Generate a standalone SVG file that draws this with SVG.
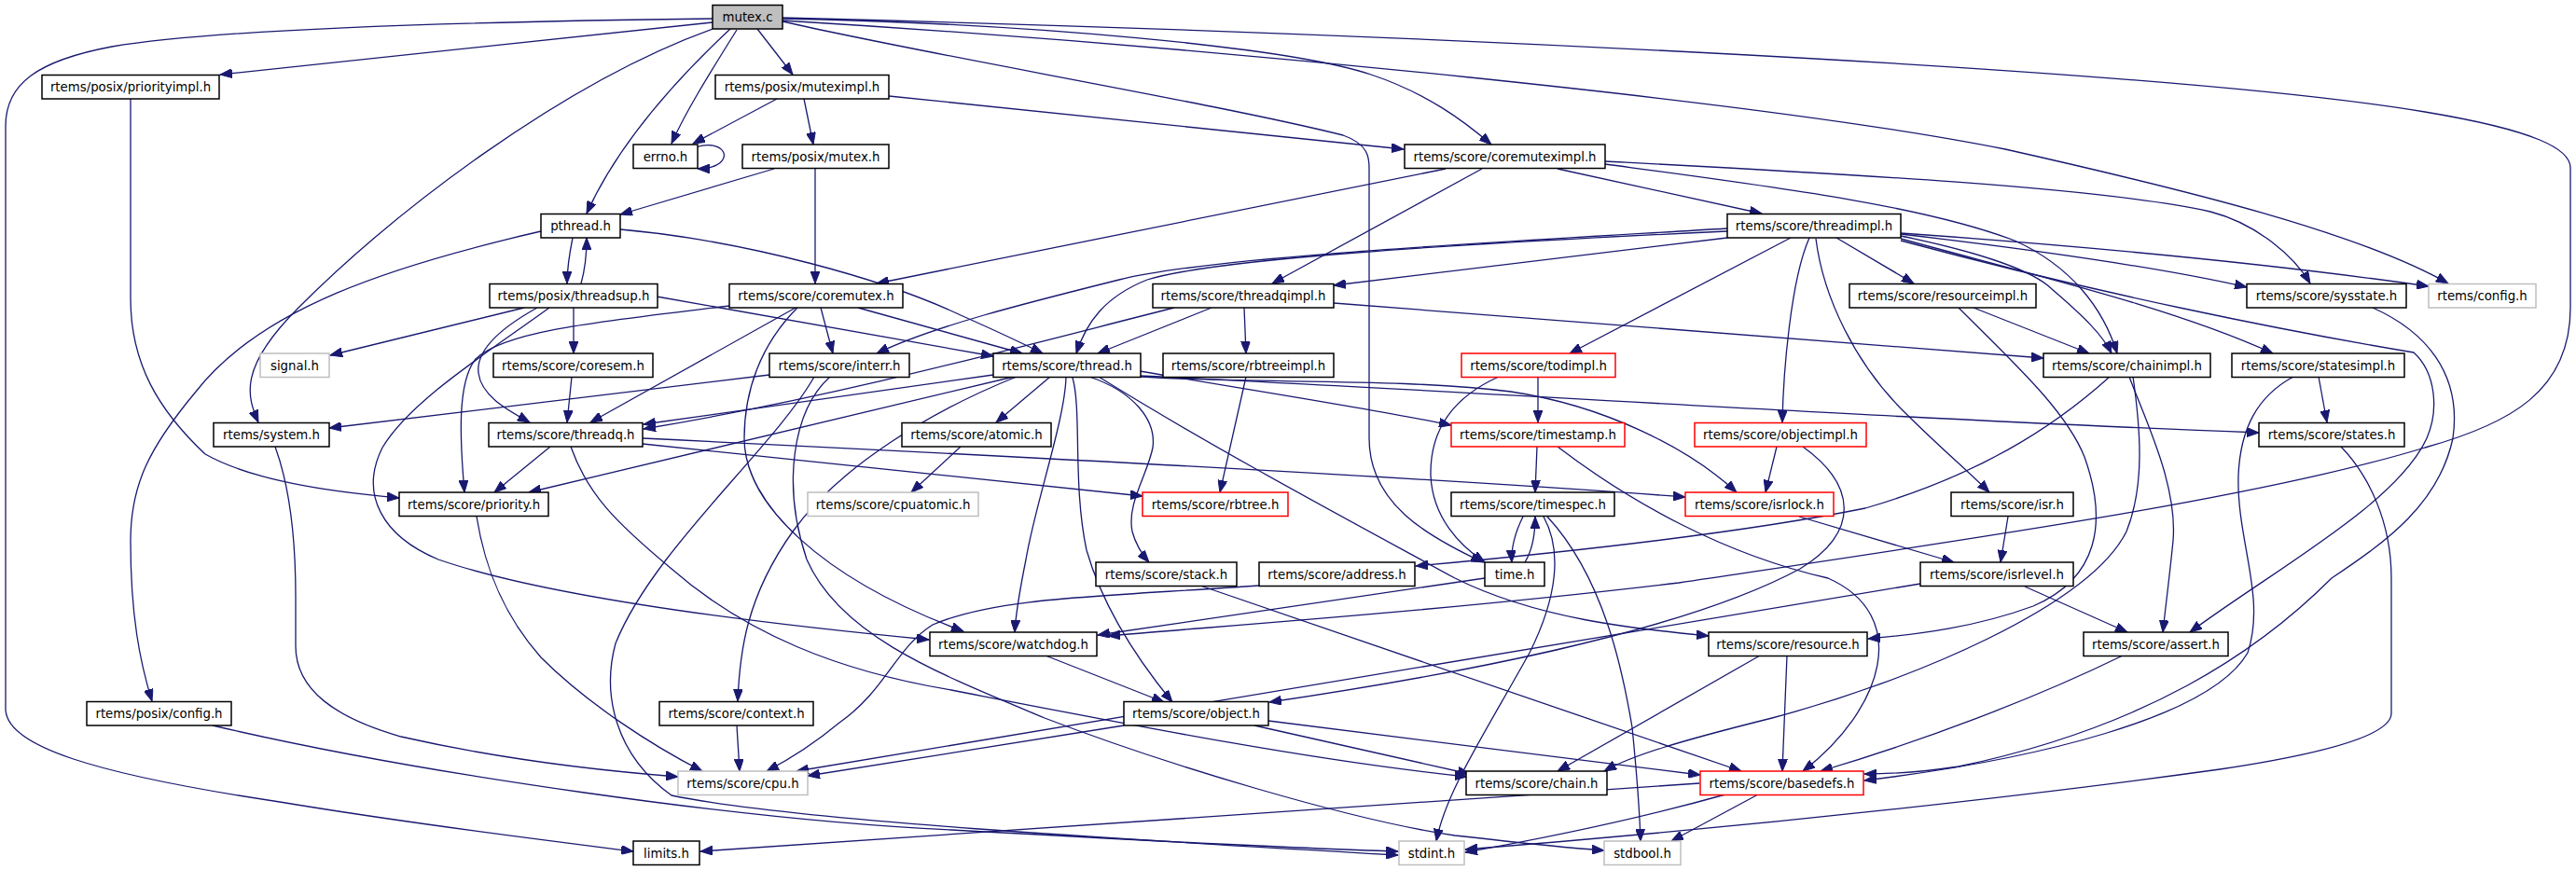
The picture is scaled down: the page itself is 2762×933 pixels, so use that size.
<svg xmlns="http://www.w3.org/2000/svg" width="2762" height="933" viewBox="0 0 2762 933">
<style>
.n rect{fill:#fff;stroke:#000;stroke-width:1.5}
.n.g rect{stroke:#bfbfbf}
.n.r rect{stroke:#ff0000}
.n.root rect{fill:#bfbfbf}
.n text{font-family:"DejaVu Sans","Liberation Sans",sans-serif;font-size:13.3px;fill:#000;text-anchor:middle}
#edges path{fill:none;stroke:#191970;stroke-width:1.3;marker-end:url(#ah)}
</style>
<defs>
<marker id="ah" markerUnits="userSpaceOnUse" markerWidth="14" markerHeight="10" refX="13" refY="5" orient="auto"><path d="M0,0 L13,5 L0,10 z" fill="#191970" stroke="#191970" stroke-width="1"/></marker>
</defs>
<rect width="2762" height="933" fill="#fff"/>
<g id="edges">
<path d="M764,20 C600,22 250,28 120,50 C40,65 6,90 6,135 L6,760 C6,800 100,830 300,860 C450,885 600,903 679,913"/>
<path d="M764,24 L236,80"/>
<path d="M764,31 C600,90 420,230 320,330 C255,395 265,425 277,453"/>
<path d="M783,31 C720,90 660,160 629,229"/>
<path d="M790,32 C760,80 735,120 720,154"/>
<path d="M812,31 L850,80"/>
<path d="M839,20 C1100,25 1380,50 1470,80 C1530,100 1570,130 1599,155"/>
<path d="M839,23 C1000,60 1300,110 1440,145 C1468,155 1468,170 1468,180 L1468,470 C1468,540 1530,575 1590,603"/>
<path d="M839,22 C1300,50 1900,110 2150,160 C2350,205 2530,250 2625,304"/>
<path d="M839,19 C1400,33 2300,70 2600,120 C2720,140 2756,160 2756,180 L2756,330 C2756,420 2690,455 2600,480 C2420,535 2100,580 1800,625 C1550,655 1300,672 1188,682"/>
<path d="M833,106 L743,154"/>
<path d="M862,106 L872,155"/>
<path d="M953,103 L1505,160"/>
<path d="M746,158 C775,148 790,172 760,180 C756,181 752,181 748,181"/>
<path d="M830,181 L665,230"/>
<path d="M874,181 L874,304"/>
<path d="M614,255 C611,270 608,288 608,304"/>
<path d="M623,304 C627,290 629,272 629,255"/>
<path d="M580,248 C420,285 280,330 210,420 C160,480 140,520 140,580 C140,660 150,710 163,752"/>
<path d="M665,246 C800,258 950,300 1030,338 C1075,358 1100,370 1118,379"/>
<path d="M562,330 L354,381"/>
<path d="M615,330 L615,379"/>
<path d="M576,330 C540,350 510,375 513,400 C516,425 545,440 568,453"/>
<path d="M589,330 C520,380 440,430 410,480 C385,530 410,575 470,600 C600,645 850,672 996,686"/>
<path d="M704,318 L1065,382"/>
<path d="M613,404 L608,453"/>
<path d="M782,328 C640,345 540,355 510,385 C490,410 493,470 498,528"/>
<path d="M853,330 L633,453"/>
<path d="M855,330 C815,370 798,420 798,470 C798,540 880,620 1033,677"/>
<path d="M880,330 L893,379"/>
<path d="M920,330 L1096,379"/>
<path d="M1550,181 L940,304"/>
<path d="M1589,181 L1364,304"/>
<path d="M1670,181 L1889,229"/>
<path d="M1721,173 C1950,185 2250,200 2370,227 C2420,240 2460,275 2477,304"/>
<path d="M1721,176 C1900,200 2060,220 2160,258 C2220,285 2255,330 2270,379"/>
<path d="M1852,245 C1600,260 1300,275 1200,300 C1100,325 1000,350 940,379"/>
<path d="M1852,248 C1550,262 1300,278 1230,300 C1185,318 1165,345 1154,379"/>
<path d="M1852,255 L1430,306"/>
<path d="M1920,255 L1683,379"/>
<path d="M1940,255 C1920,300 1912,400 1911,453"/>
<path d="M1947,256 C1955,320 1990,390 2040,440 C2080,480 2110,505 2133,528"/>
<path d="M1969,255 L2052,304"/>
<path d="M2038,251 C2200,270 2330,290 2409,308"/>
<path d="M2038,250 C2250,265 2450,285 2604,307"/>
<path d="M2038,253 C2120,270 2180,290 2200,310 C2235,340 2255,360 2264,379"/>
<path d="M2038,256 C2180,295 2330,330 2437,379"/>
<path d="M2038,258 C2250,315 2450,355 2588,378 C2612,400 2615,440 2602,470 C2570,540 2440,610 2348,678"/>
<path d="M1259,330 C1100,370 900,425 690,460"/>
<path d="M1299,330 L1177,379"/>
<path d="M1334,330 L1336,379"/>
<path d="M1430,325 L2191,384"/>
<path d="M1065,402 L690,455"/>
<path d="M1087,404 L567,528"/>
<path d="M1090,404 C1000,440 900,500 850,570 C800,640 793,700 791,752"/>
<path d="M1126,404 L1068,453"/>
<path d="M1143,404 C1142,450 1110,540 1100,600 C1092,640 1089,660 1088,678"/>
<path d="M1150,405 C1160,440 1150,520 1165,590 C1185,660 1230,720 1257,753"/>
<path d="M1168,404 C1215,420 1240,450 1236,480 C1230,510 1208,540 1214,570 C1218,585 1225,595 1232,603"/>
<path d="M1178,404 C1300,480 1450,560 1560,620 C1650,665 1760,675 1832,682"/>
<path d="M1222,398 C1350,420 1480,440 1556,456"/>
<path d="M1222,404 C1350,412 1500,405 1620,420 C1720,435 1810,480 1862,528"/>
<path d="M1222,403 C1550,418 2000,448 2422,464"/>
<path d="M1336,404 L1308,528"/>
<path d="M1030,479 L977,528"/>
<path d="M1649,404 L1649,453"/>
<path d="M1607,404 C1560,425 1533,460 1534,510 C1536,555 1565,585 1592,603"/>
<path d="M1648,479 L1646,528"/>
<path d="M1670,479 C1750,540 1850,595 1960,620 C2050,660 2020,760 1933,827"/>
<path d="M1905,479 L1893,528"/>
<path d="M1933,479 C1990,520 1995,570 1930,610 C1800,680 1550,725 1361,753"/>
<path d="M1633,554 C1625,570 1620,585 1621,603"/>
<path d="M1635,603 C1643,590 1646,570 1646,554"/>
<path d="M1655,554 C1675,590 1670,640 1640,700 C1590,790 1550,850 1540,902"/>
<path d="M1659,554 C1720,620 1740,720 1750,780 C1755,830 1758,870 1759,902"/>
<path d="M1929,554 L2095,603"/>
<path d="M2153,554 L2145,603"/>
<path d="M2171,629 L2281,678"/>
<path d="M2059,626 L854,827"/>
<path d="M2262,404 C2200,460 2120,510 2000,545 C1850,575 1650,595 1518,607"/>
<path d="M2283,404 C2300,450 2335,520 2330,580 C2326,620 2322,650 2319,678"/>
<path d="M2287,404 C2295,460 2300,520 2280,570 C2240,650 2050,730 1900,770 C1800,795 1750,810 1720,827"/>
<path d="M2116,330 L2240,379"/>
<path d="M2100,330 C2160,390 2215,440 2235,490 C2260,560 2250,620 2180,650 C2120,672 2060,680 2003,685"/>
<path d="M2486,404 L2495,453"/>
<path d="M2459,404 C2420,425 2402,460 2400,510 C2398,580 2430,640 2410,700 C2370,770 2180,815 1999,837"/>
<path d="M2544,330 C2600,355 2640,400 2630,470 C2615,540 2560,580 2500,620 C2420,700 2300,780 2100,822 C2060,828 2030,830 1999,830"/>
<path d="M2510,479 C2540,510 2564,560 2564,620 L2564,765 C2564,790 2480,810 2380,825 C2200,850 1900,885 1571,911"/>
<path d="M2276,703 C2180,750 2060,795 1952,827"/>
<path d="M1887,703 L1670,827"/>
<path d="M1916,703 L1911,827"/>
<path d="M1287,628 L1867,827"/>
<path d="M1592,620 L1177,681"/>
<path d="M1121,703 L1248,753"/>
<path d="M1205,778 L866,832"/>
<path d="M1345,778 L1576,830"/>
<path d="M1360,773 L1823,831"/>
<path d="M790,778 L793,827"/>
<path d="M295,479 C310,520 317,570 317,640 L317,693 C317,740 360,770 430,790 C540,815 650,827 727,833"/>
<path d="M511,554 C520,610 540,660 580,705 C630,755 700,800 753,827"/>
<path d="M1350,628 C1180,640 1070,640 1000,670 C960,695 950,740 900,775 C870,800 845,815 822,827"/>
<path d="M228,778 C450,830 800,880 1020,890 C1200,900 1400,910 1499,913"/>
<path d="M825,402 L353,459"/>
<path d="M873,404 C830,480 700,590 660,690 C645,745 660,810 720,853 C850,880 1200,900 1499,917"/>
<path d="M890,404 C850,440 838,520 865,600 C900,680 1000,720 1120,770 C1250,820 1450,880 1560,896 C1640,905 1690,910 1720,912"/>
<path d="M1822,840 L751,913"/>
<path d="M1850,852 C1750,880 1650,900 1571,914"/>
<path d="M1885,852 L1792,902"/>
<path d="M590,479 L530,528"/>
<path d="M612,479 C630,530 660,560 720,610 C800,680 900,720 1020,740 C1200,775 1400,815 1573,833"/>
<path d="M689,476 L1225,532"/>
<path d="M689,470 C1000,485 1500,510 1807,533"/>
<path d="M140,106 L140,320 C140,390 170,440 220,487 C270,515 350,527 428,534"/>
</g>
<g id="node-mutex-c" class="n root"><rect x="764" y="5.5" width="75" height="25.5"/><text x="801.5" y="23">mutex.c</text></g>
<g id="node-priorityimpl" class="n"><rect x="45" y="80.5" width="190" height="25.5"/><text x="140" y="98">rtems/posix/priorityimpl.h</text></g>
<g id="node-muteximpl" class="n"><rect x="767" y="80.5" width="186" height="25.5"/><text x="860" y="98">rtems/posix/muteximpl.h</text></g>
<g id="node-errno" class="n"><rect x="679" y="155" width="69" height="25.5"/><text x="713.5" y="172.5">errno.h</text></g>
<g id="node-posix-mutex" class="n"><rect x="796" y="155" width="157" height="25.5"/><text x="874.5" y="172.5">rtems/posix/mutex.h</text></g>
<g id="node-coremuteximpl" class="n"><rect x="1506" y="155" width="215" height="25.5"/><text x="1613.5" y="172.5">rtems/score/coremuteximpl.h</text></g>
<g id="node-pthread" class="n"><rect x="580" y="229.5" width="85" height="25.5"/><text x="622.5" y="247">pthread.h</text></g>
<g id="node-threadimpl" class="n"><rect x="1852" y="229.5" width="186" height="25.5"/><text x="1945" y="247">rtems/score/threadimpl.h</text></g>
<g id="node-threadsup" class="n"><rect x="525" y="304.5" width="180" height="25.5"/><text x="615" y="322">rtems/posix/threadsup.h</text></g>
<g id="node-coremutex" class="n"><rect x="782" y="304.5" width="186" height="25.5"/><text x="875" y="322">rtems/score/coremutex.h</text></g>
<g id="node-threadqimpl" class="n"><rect x="1236" y="304.5" width="194" height="25.5"/><text x="1333" y="322">rtems/score/threadqimpl.h</text></g>
<g id="node-resourceimpl" class="n"><rect x="1983" y="304.5" width="200" height="25.5"/><text x="2083" y="322">rtems/score/resourceimpl.h</text></g>
<g id="node-sysstate" class="n"><rect x="2409" y="304.5" width="171" height="25.5"/><text x="2494.5" y="322">rtems/score/sysstate.h</text></g>
<g id="node-config" class="n g"><rect x="2604" y="304.5" width="115" height="25.5"/><text x="2661.5" y="322">rtems/config.h</text></g>
<g id="node-signal" class="n g"><rect x="279" y="379" width="74" height="25.5"/><text x="316" y="396.5">signal.h</text></g>
<g id="node-coresem" class="n"><rect x="529" y="379" width="171" height="25.5"/><text x="614.5" y="396.5">rtems/score/coresem.h</text></g>
<g id="node-interr" class="n"><rect x="825" y="379" width="150" height="25.5"/><text x="900" y="396.5">rtems/score/interr.h</text></g>
<g id="node-thread" class="n"><rect x="1065" y="379" width="158" height="25.5"/><text x="1144" y="396.5">rtems/score/thread.h</text></g>
<g id="node-rbtreeimpl" class="n"><rect x="1247" y="379" width="183" height="25.5"/><text x="1338.5" y="396.5">rtems/score/rbtreeimpl.h</text></g>
<g id="node-todimpl" class="n r"><rect x="1567" y="379" width="165" height="25.5"/><text x="1649.5" y="396.5">rtems/score/todimpl.h</text></g>
<g id="node-chainimpl" class="n"><rect x="2191" y="379" width="179" height="25.5"/><text x="2280.5" y="396.5">rtems/score/chainimpl.h</text></g>
<g id="node-statesimpl" class="n"><rect x="2393" y="379" width="185" height="25.5"/><text x="2485.5" y="396.5">rtems/score/statesimpl.h</text></g>
<g id="node-system" class="n"><rect x="229" y="453.5" width="124" height="25.5"/><text x="291" y="471">rtems/system.h</text></g>
<g id="node-threadq" class="n"><rect x="524" y="453.5" width="165" height="25.5"/><text x="606.5" y="471">rtems/score/threadq.h</text></g>
<g id="node-atomic" class="n"><rect x="967" y="453.5" width="160" height="25.5"/><text x="1047" y="471">rtems/score/atomic.h</text></g>
<g id="node-timestamp" class="n r"><rect x="1556" y="453.5" width="186" height="25.5"/><text x="1649" y="471">rtems/score/timestamp.h</text></g>
<g id="node-objectimpl" class="n r"><rect x="1817" y="453.5" width="184" height="25.5"/><text x="1909" y="471">rtems/score/objectimpl.h</text></g>
<g id="node-states" class="n"><rect x="2422" y="453.5" width="156" height="25.5"/><text x="2500" y="471">rtems/score/states.h</text></g>
<g id="node-priority" class="n"><rect x="428" y="528" width="160" height="25.5"/><text x="508" y="545.5">rtems/score/priority.h</text></g>
<g id="node-cpuatomic" class="n g"><rect x="866" y="528" width="183" height="25.5"/><text x="957.5" y="545.5">rtems/score/cpuatomic.h</text></g>
<g id="node-rbtree" class="n r"><rect x="1225" y="528" width="156" height="25.5"/><text x="1303" y="545.5">rtems/score/rbtree.h</text></g>
<g id="node-timespec" class="n"><rect x="1556" y="528" width="175" height="25.5"/><text x="1643.5" y="545.5">rtems/score/timespec.h</text></g>
<g id="node-isrlock" class="n r"><rect x="1807" y="528" width="159" height="25.5"/><text x="1886.5" y="545.5">rtems/score/isrlock.h</text></g>
<g id="node-isr" class="n"><rect x="2092" y="528" width="131" height="25.5"/><text x="2157.5" y="545.5">rtems/score/isr.h</text></g>
<g id="node-stack" class="n"><rect x="1175" y="603" width="151" height="25.5"/><text x="1250.5" y="620.5">rtems/score/stack.h</text></g>
<g id="node-address" class="n"><rect x="1350" y="603" width="167" height="25.5"/><text x="1433.5" y="620.5">rtems/score/address.h</text></g>
<g id="node-time" class="n"><rect x="1592" y="603" width="64" height="25.5"/><text x="1624" y="620.5">time.h</text></g>
<g id="node-isrlevel" class="n"><rect x="2059" y="603" width="164" height="25.5"/><text x="2141" y="620.5">rtems/score/isrlevel.h</text></g>
<g id="node-watchdog" class="n"><rect x="997" y="678" width="179" height="25.5"/><text x="1086.5" y="695.5">rtems/score/watchdog.h</text></g>
<g id="node-resource" class="n"><rect x="1832" y="678" width="170" height="25.5"/><text x="1917" y="695.5">rtems/score/resource.h</text></g>
<g id="node-assert" class="n"><rect x="2234" y="678" width="155" height="25.5"/><text x="2311.5" y="695.5">rtems/score/assert.h</text></g>
<g id="node-posix-config" class="n"><rect x="93" y="752.5" width="155" height="25.5"/><text x="170.5" y="770">rtems/posix/config.h</text></g>
<g id="node-context" class="n"><rect x="707" y="752.5" width="165" height="25.5"/><text x="789.5" y="770">rtems/score/context.h</text></g>
<g id="node-object" class="n"><rect x="1205" y="752.5" width="155" height="25.5"/><text x="1282.5" y="770">rtems/score/object.h</text></g>
<g id="node-cpu" class="n g"><rect x="727" y="827" width="139" height="25.5"/><text x="796.5" y="844.5">rtems/score/cpu.h</text></g>
<g id="node-chain" class="n"><rect x="1572" y="827" width="151" height="25.5"/><text x="1647.5" y="844.5">rtems/score/chain.h</text></g>
<g id="node-basedefs" class="n r"><rect x="1823" y="827" width="175" height="25.5"/><text x="1910.5" y="844.5">rtems/score/basedefs.h</text></g>
<g id="node-limits" class="n"><rect x="679" y="902" width="71" height="25.5"/><text x="714.5" y="919.5">limits.h</text></g>
<g id="node-stdint" class="n g"><rect x="1500" y="902" width="70" height="25.5"/><text x="1535" y="919.5">stdint.h</text></g>
<g id="node-stdbool" class="n g"><rect x="1720" y="902" width="82" height="25.5"/><text x="1761" y="919.5">stdbool.h</text></g>
</svg>
